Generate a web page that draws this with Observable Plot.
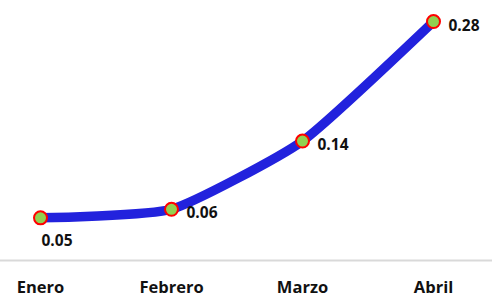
<!DOCTYPE html>
<html><head><meta charset="utf-8">
<script src="https://cdn.jsdelivr.net/npm/d3@7"></script>
<script src="https://cdn.jsdelivr.net/npm/@observablehq/plot@0.6"></script>
<style>body{margin:0;background:#fff;} svg{display:block;}</style>
</head><body><div id="chart"></div>
<script>
const months = ["Enero", "Febrero", "Marzo", "Abril"];
const values = [0.05, 0.06, 0.14, 0.28];
const labelPos = ["below", "right", "right", "right"];

const data = months.map((m, i) => ({month: m, value: values[i], pos: labelPos[i]}));
const font = "'Open Sans', Lato, sans-serif";

const chart = Plot.plot({
  width: 492,
  height: 297,
  marginLeft: 40,
  marginRight: 59,
  marginTop: 4,
  marginBottom: 37,
  style: {fontFamily: font, background: "#fff"},
  x: {type: "point", domain: months, padding: 0, axis: null},
  y: {domain: [0, 0.3], axis: null},
  marks: [
    Plot.ruleY([0], {stroke: "#d9d9d9", strokeWidth: 2, insetLeft: -40, insetRight: -59}),
    Plot.text(months, {x: d => d, y: 0, dy: 27, text: d => d, fontSize: 16.5, fontWeight: "bold", fill: "#111"}),
    Plot.line(data, {x: "month", y: "value", stroke: "#2222dd", strokeWidth: 9.5, curve: "cardinal", tension: 0.5}),
    Plot.dot(data, {x: "month", y: "value", r: 6.5, fill: "#92d050", stroke: "#ff0000", strokeWidth: 2}),
    Plot.text(data.filter(d => d.pos === "right"), {x: "month", y: "value", text: d => d.value.toFixed(2), textAnchor: "start", dx: 15, dy: 4, fontSize: 15.5, fontWeight: "bold", fill: "#111"}),
    Plot.text(data.filter(d => d.pos === "below"), {x: "month", y: "value", text: d => d.value.toFixed(2), textAnchor: "start", dx: 1, dy: 23, fontSize: 15.5, fontWeight: "bold", fill: "#111"})
  ]
});
document.getElementById("chart").appendChild(chart);
</script></body></html>
